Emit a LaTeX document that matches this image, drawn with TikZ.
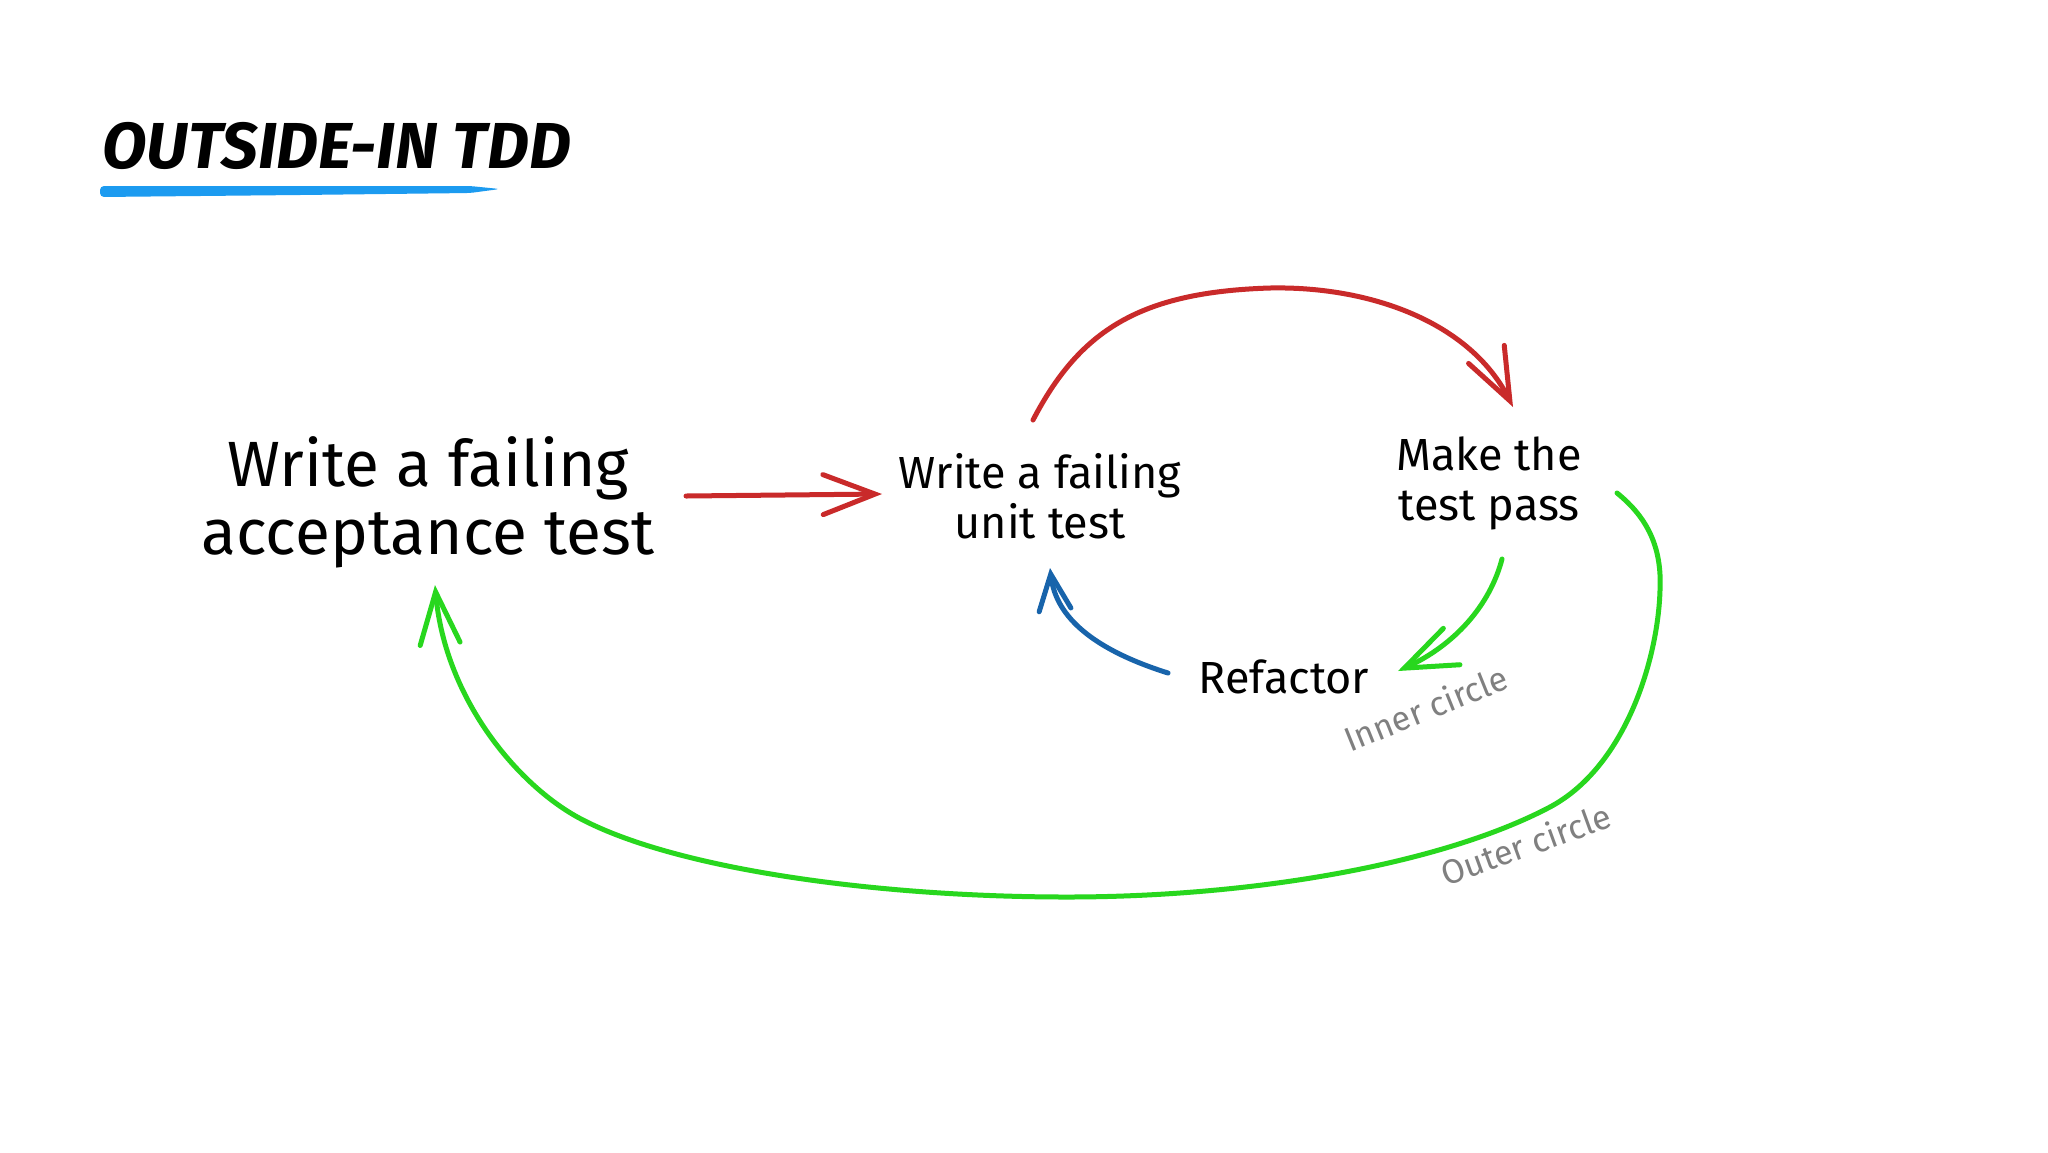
\documentclass[tikz,border=0pt]{standalone}
\usepackage{fontspec}
\setmainfont{Fira Sans}
\usetikzlibrary{arrows.meta,calc}
\definecolor{xred}{RGB}{201,42,42}
\definecolor{xgreen}{RGB}{40,215,30}
\definecolor{xblue}{RGB}{24,100,171}
\definecolor{xsky}{RGB}{28,155,240}
\definecolor{xgray}{RGB}{128,128,128}
\begin{document}
\begin{tikzpicture}[x=0.5pt,y=-0.5pt,
  txt/.style={inner sep=0pt, align=center, font=\fontsize{22.5}{25}\selectfont},
  bigtxt/.style={inner sep=0pt, align=center, font=\fontsize{32}{34}\selectfont},
  note/.style={inner sep=0pt, text=xgray, font=\fontsize{17}{20}\selectfont},
  conn/.style={line width=2.5pt, line cap=round, line join=round},
  redconn/.style={conn, draw=xred},
  greenconn/.style={conn, draw=xgreen},
  blueconn/.style={conn, draw=xblue},
  barb/.tip={Straight Barb[length=26pt, width=20pt, line cap=round]}
]
\fill[white] (0,0) rectangle (2048,1152);
\useasboundingbox (0,0) rectangle (2048,1152);

% title
\node[anchor=base west, inner sep=0pt, font=\fontsize{32.5}{33}\selectfont\bfseries\itshape] (title) at (102,168) {OUTSIDE-IN TDD};
\fill[xsky, rounded corners=2pt] (100,186) -- (300,186) -- (470,186) -- (500,189) -- (470,193) -- (300,195) -- (100,197) -- cycle;

% nodes
\node[bigtxt] (acc) at (428,502) {Write a failing\\acceptance test};
\node[txt] (unit) at (1040,496) {Write a failing\\unit test};
\node[txt] (pass) at (1489,483) {Make the\\test pass};
\node[txt] (refactor) at (1284,677) {Refactor};
\node[note, rotate=22] (inner) at (1426,708) {Inner circle};
\node[note, rotate=20] (outer) at (1526,844) {Outer circle};

% connectors
\draw[redconn, -{barb}] ($(acc.center)+(258,-6)$) -- ($(unit.center)+(-158,-2)$);

\draw[redconn, -{barb}] ($(unit.center)+(-7,-76)$)
  .. controls (1080,330) and (1140,292) .. (1270,288)
  .. controls (1370,286) and (1470,322) .. ($(pass.center)+(24,-76)$);

\draw[greenconn, -{barb}] ($(pass.center)+(13,76)$)
  .. controls (1490,605) and (1455,645) .. ($(refactor.center)+(114,-6)$);

\draw[blueconn, -{Straight Barb[length=18pt, width=16pt, line cap=round]}] ($(refactor.center)+(-116,-4)$)
  .. controls (1095,650) and (1056,618) .. ($(unit.center)+(10,72)$);

\draw[greenconn, -{barb}] ($(pass.center)+(128,10)$)
  .. controls (1648,518) and (1662,548) .. (1660,590)
  .. controls (1658,660) and (1625,767) .. (1550,807)
  .. controls (1440,865) and (1250,897) .. (1067,897)
  .. controls (880,897) and (680,870) .. (583,820)
  .. controls (520,788) and (445,700) .. ($(acc.center)+(7,83)$);
\end{tikzpicture}
\end{document}
